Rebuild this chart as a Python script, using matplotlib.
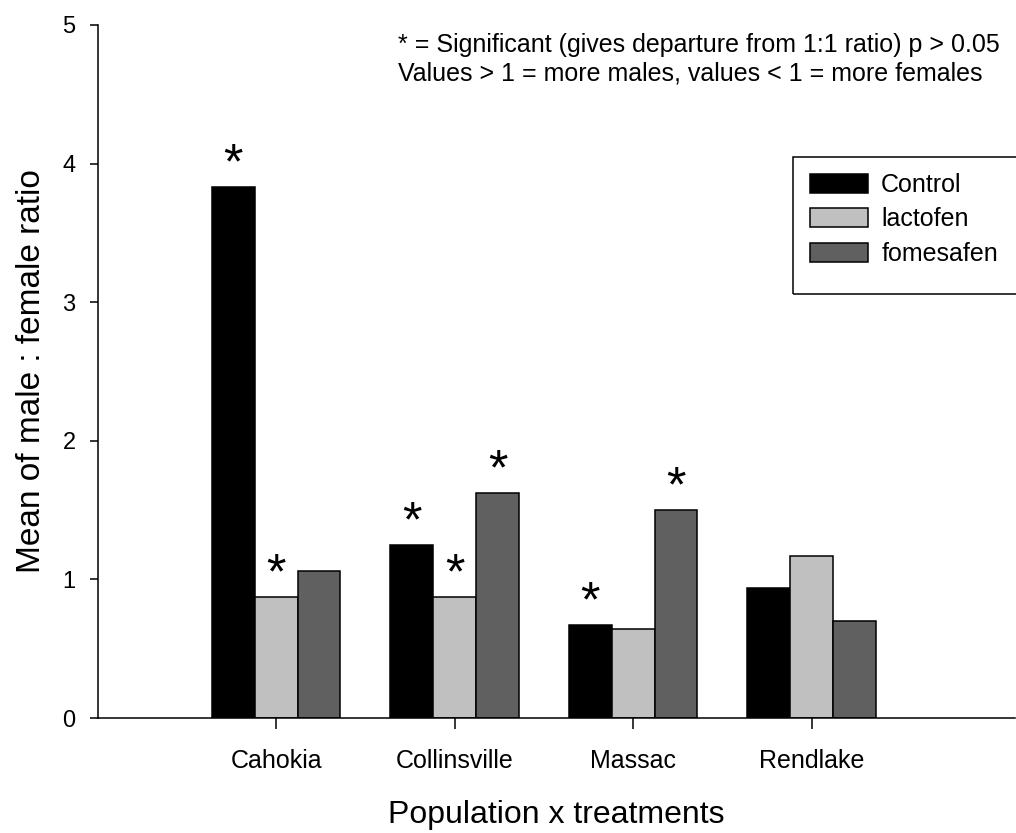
import matplotlib
matplotlib.use("Agg")
import matplotlib.pyplot as plt
from matplotlib.patches import Rectangle
import numpy as np

plt.rcParams["font.family"] = ["Liberation Sans", "DejaVu Sans"]

populations = ["Cahokia", "Collinsville", "Massac", "Rendlake"]
treatments = ["Control", "lactofen", "fomesafen"]
colors = ["#000000", "#c0c0c0", "#606060"]

# mean male:female ratio per population, one list per treatment
control = [3.83, 1.25, 0.67, 0.94]
lactofen = [0.87, 0.87, 0.64, 1.17]
fomesafen = [1.06, 1.62, 1.50, 0.70]

# significance flags (departure from 1:1)
sig_control = [True, True, True, False]
sig_lactofen = [True, True, False, False]
sig_fomesafen = [False, True, True, False]

fig = plt.figure(figsize=(10.16, 8.33), dpi=100)
ax = fig.add_axes([0.0962, 0.138, 0.903, 0.832])

x = np.arange(1, len(populations) + 1)
width = 0.24
series = [control, lactofen, fomesafen]
flags = [sig_control, sig_lactofen, sig_fomesafen]
for i, (vals, col, name, sig) in enumerate(zip(series, colors, treatments, flags)):
    pos = x + (i - 1) * width
    ax.bar(pos, vals, width, color=col, edgecolor="black", linewidth=1.1, label=name, zorder=2)
    for px, v, s in zip(pos, vals, sig):
        if s:
            ax.annotate("*", xy=(px, v), xytext=(0, -1), textcoords="offset points",
                        ha="center", va="bottom", fontsize=36)

ax.set_xlim(0, 5.14)
ax.set_ylim(0, 5)
ax.set_yticks(range(6))
ax.set_xticks(x)
ax.set_xticklabels(populations)
ax.tick_params(axis="y", length=6, width=1.1, pad=10, labelsize=17)
ax.tick_params(axis="x", length=8, width=1.1, pad=14, labelsize=18)
for side in ["top", "right"]:
    ax.spines[side].set_visible(False)
for side in ["left", "bottom"]:
    ax.spines[side].set_linewidth(1.1)

ax.set_ylabel("Mean of male : female ratio", fontsize=24, labelpad=11)
ax.set_xlabel("Population x treatments", fontsize=23, labelpad=20)

fig.text(398 / 1016, 1 - 33 / 833,
         "* = Significant (gives departure from 1:1 ratio) p > 0.05\n"
         "Values > 1 = more males, values < 1 = more females",
         ha="left", va="top", fontsize=18, linespacing=1.22)

# legend box runs off the right edge
fig.patches.append(Rectangle((792.7 / 1016, 1 - 294 / 833), (1030 - 792.7) / 1016, (294 - 157) / 833,
                             transform=fig.transFigure, fill=False, edgecolor="black", linewidth=1.1))
fig.legend(loc="upper left", bbox_to_anchor=(810 / 1016, 1 - 173 / 833), frameon=False,
           fontsize=18, handlelength=2.3, handleheight=0.8, handletextpad=0.55,
           labelspacing=0.42, borderpad=0, borderaxespad=0)

fig.savefig("out.png", dpi=100)
